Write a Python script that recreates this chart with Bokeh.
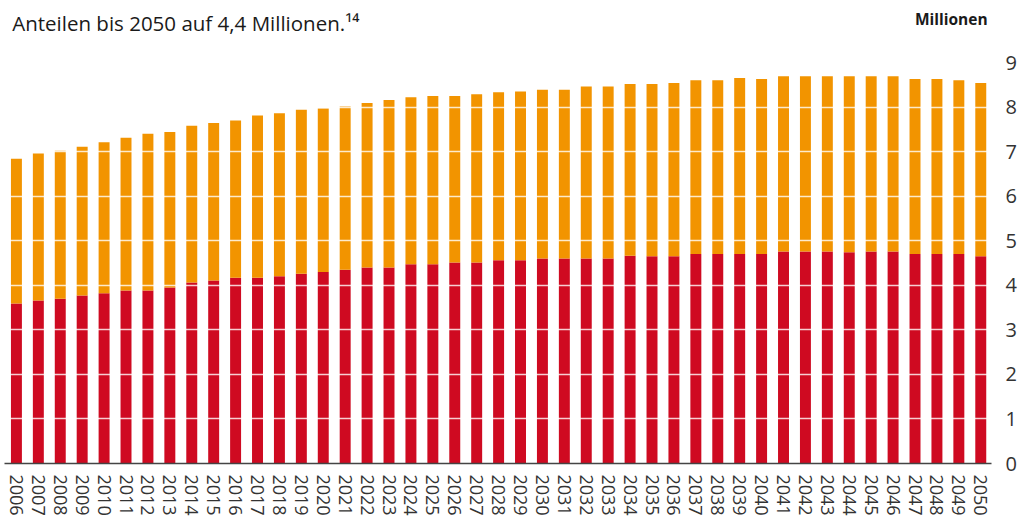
from bokeh.plotting import figure
from bokeh.models import Range1d, FixedTicker
from bokeh.layouts import column
from bokeh.core.properties import value
from bokeh.embed import file_html
from bokeh.resources import INLINE

jahre = list(range(2006, 2051))
rot = [3.59, 3.66, 3.70, 3.77, 3.82, 3.88, 3.88, 3.95, 4.06, 4.11,
       4.17, 4.17, 4.20, 4.26, 4.30, 4.35, 4.40, 4.40, 4.47, 4.47,
       4.51, 4.51, 4.56, 4.56, 4.60, 4.60, 4.60, 4.60, 4.66, 4.65,
       4.65, 4.70, 4.70, 4.70, 4.70, 4.76, 4.76, 4.76, 4.74, 4.76,
       4.76, 4.70, 4.70, 4.70, 4.65]
gesamt = [6.84, 6.96, 7.02, 7.11, 7.21, 7.31, 7.40, 7.44, 7.58, 7.64,
          7.70, 7.81, 7.86, 7.94, 7.97, 8.01, 8.09, 8.16, 8.22, 8.25,
          8.25, 8.29, 8.33, 8.35, 8.39, 8.39, 8.46, 8.46, 8.52, 8.52,
          8.54, 8.60, 8.60, 8.65, 8.63, 8.69, 8.69, 8.69, 8.69, 8.69,
          8.69, 8.63, 8.63, 8.60, 8.54]
y_ticks = [0, 1, 2, 3, 4, 5, 6, 7, 8, 9]

titel = "Anteilen bis 2050 auf 4,4 Millionen.\u00b9\u2074"
einheit = "Millionen"

ROT = "#CF0A21"
ORANGE = "#F29400"
FONT = "Open Sans"

W = 1019
HEAD_H = 48

# header with the text lines
head = figure(width=W, height=HEAD_H, output_backend="svg", toolbar_location=None,
              x_range=Range1d(0, W), y_range=Range1d(HEAD_H, 0),
              x_axis_type=None, y_axis_type=None,
              min_border_left=0, min_border_right=0, min_border_top=0,
              min_border_bottom=0)
head.outline_line_color = None
head.xgrid.visible = False
head.ygrid.visible = False
head.text(x=[8], y=[22], text=[titel], text_font=value(FONT),
          text_font_size="20.5px", text_color="#1a1a1a",
          text_align="left", text_baseline="alphabetic")
head.text(x=[1015], y=[18], text=[einheit], text_font=value(FONT),
          text_font_size="15.5px", text_font_style="bold", text_color="#1a1a1a",
          text_align="right", text_baseline="alphabetic")

# main chart
unit = 22.05
x0 = 2006 - 12 / unit
x1 = x0 + 993 / unit

p = figure(width=W, height=518 - HEAD_H, output_backend="svg", toolbar_location=None,
           x_range=Range1d(x0, x1), y_range=Range1d(0, 9),
           y_axis_location="right",
           min_border_left=4, min_border_right=22, min_border_top=62 - HEAD_H,
           min_border_bottom=54)
p.outline_line_color = None

p.vbar(x=jahre, top=rot, bottom=0, width=0.5, fill_color=ROT, line_color=None)
p.vbar(x=jahre, top=gesamt, bottom=rot, width=0.5, fill_color=ORANGE, line_color=None)

p.xgrid.grid_line_color = None
p.ygrid.ticker = FixedTicker(ticks=y_ticks[1:])
p.ygrid.grid_line_color = "white"
p.ygrid.grid_line_alpha = 0.8
p.ygrid.grid_line_width = 1.5
p.ygrid.level = "overlay"

xa = p.xaxis[0]
xa.ticker = FixedTicker(ticks=jahre)
xa.major_label_orientation = "vertical"
xa.major_tick_line_color = None
xa.minor_tick_line_color = None
xa.axis_line_color = "#444444"
xa.axis_line_width = 1.5
xa.major_label_text_font = FONT
xa.major_label_text_font_size = "18px"
xa.major_label_text_color = "#333333"
xa.major_label_standoff = 5

ya = p.yaxis[0]
ya.ticker = FixedTicker(ticks=y_ticks)
ya.axis_line_color = None
ya.major_tick_line_color = None
ya.minor_tick_line_color = None
ya.major_label_text_font = FONT
ya.major_label_text_font_size = "20px"
ya.major_label_text_color = "#333333"
ya.major_label_standoff = 8

layout = column(head, p, spacing=0)
open("out.html", "w").write(file_html(layout, INLINE))
